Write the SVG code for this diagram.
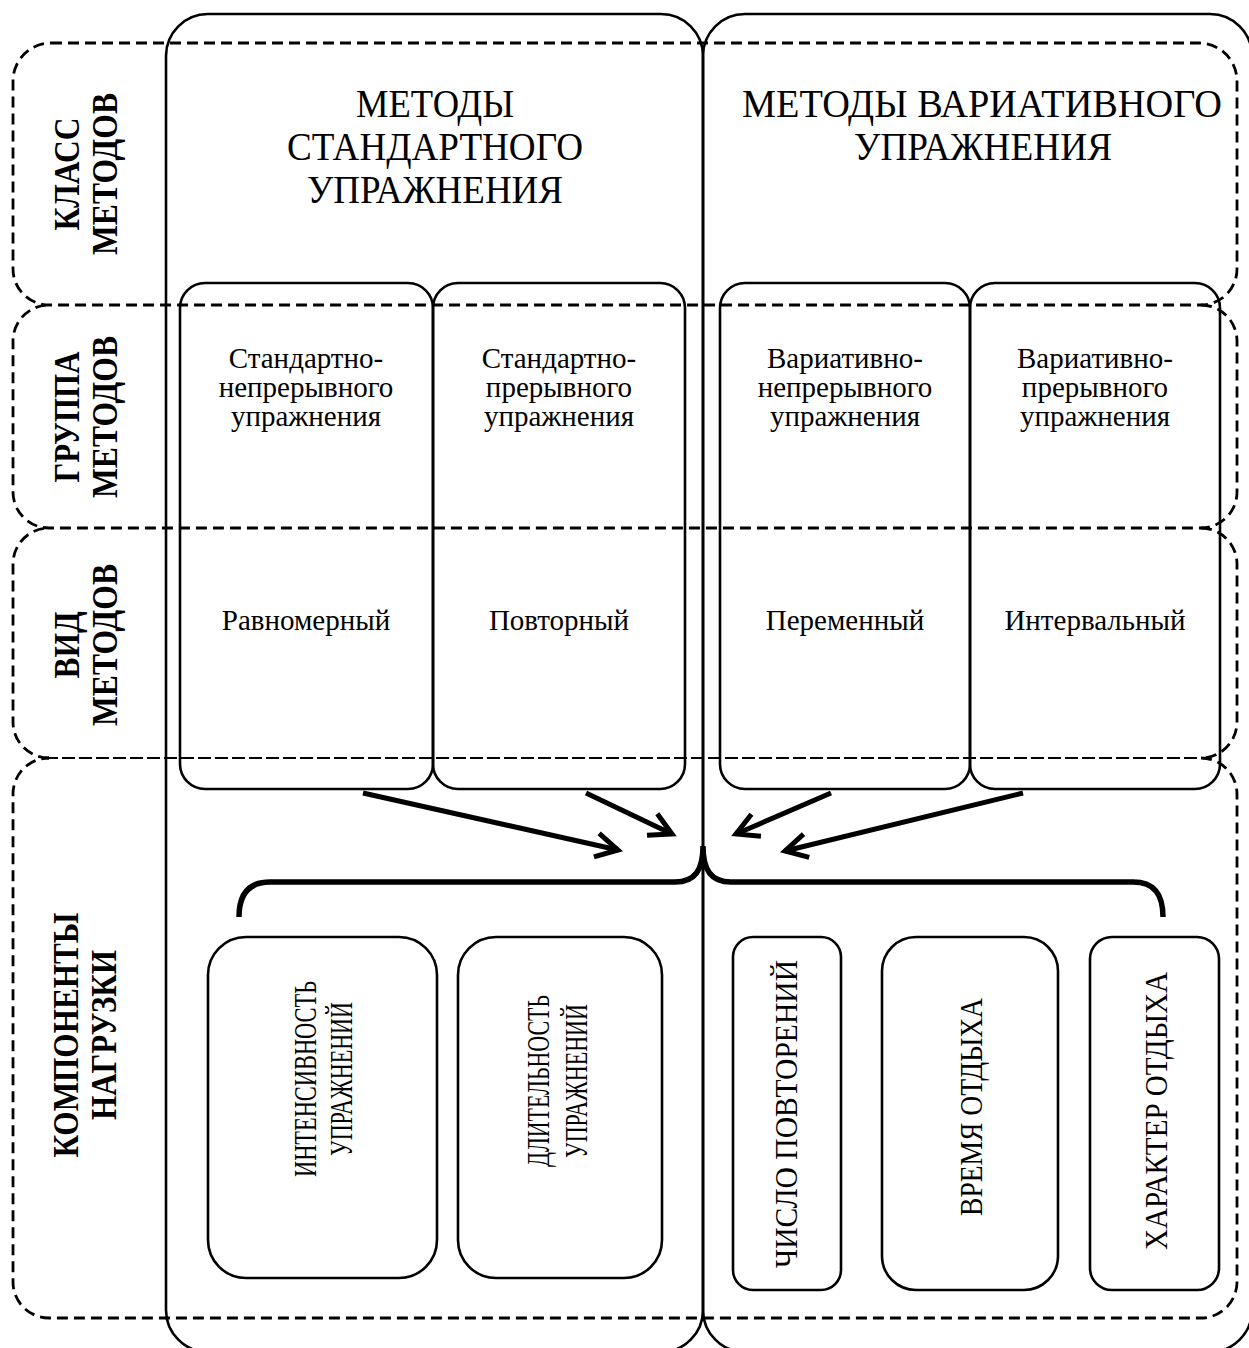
<svg xmlns="http://www.w3.org/2000/svg" width="1249" height="1348" viewBox="0 0 1249 1348">
<defs>
<style>
.dash{fill:none;stroke:#000;stroke-width:2.8;stroke-dasharray:11 6}
.thin{fill:none;stroke:#000;stroke-width:2;stroke-dasharray:13 4}
.col{fill:none;stroke:#000;stroke-width:2.6}
.box{fill:none;stroke:#000;stroke-width:2.6}
.arrow{fill:none;stroke:#000;stroke-width:5;marker-end:url(#chev)}
.brace{fill:none;stroke:#000;stroke-width:5.5;stroke-linecap:butt}
text{font-family:"Liberation Serif","Times New Roman",serif;fill:#000}
.h{font-size:40px;text-anchor:middle}
.s{font-size:29px;text-anchor:middle}
.lbl{font-size:36px;font-weight:bold;text-anchor:middle}
.v{font-size:31px;text-anchor:middle}
.vr{font-size:32px;text-anchor:middle}
</style>
<marker id="chev" markerUnits="userSpaceOnUse" markerWidth="40" markerHeight="30" viewBox="0 0 40 30" refX="32" refY="15" orient="auto" overflow="visible">
<path d="M10,3 L32,15 L10,27" fill="none" stroke="#000" stroke-width="5"/>
</marker>
</defs>

<g id="row-class">
<path class="dash" d="M51,43 L1199,43 A38,38 0 0 1 1237,81 L1237,269 A36,36 0 0 1 1201,305 L49,305 A36,36 0 0 1 13,269 L13,81 A38,38 0 0 1 51,43 Z"/>
<text class="lbl" transform="translate(0,174) rotate(-90)"><tspan x="0" y="79" textLength="113" lengthAdjust="spacingAndGlyphs">КЛАСС</tspan><tspan x="0" y="117" textLength="162" lengthAdjust="spacingAndGlyphs">МЕТОДОВ</tspan></text>
</g>
<g id="row-group">
<path class="dash" d="M1201,305 A36,36 0 0 1 1237,341 L1237,492 A36,36 0 0 1 1201,528 L49,528 A36,36 0 0 1 13,492 L13,341 A36,36 0 0 1 49,305"/>
<text class="lbl" transform="translate(0,417) rotate(-90)"><tspan x="0" y="79" textLength="131" lengthAdjust="spacingAndGlyphs">ГРУППА</tspan><tspan x="0" y="117" textLength="162" lengthAdjust="spacingAndGlyphs">МЕТОДОВ</tspan></text>
</g>
<g id="row-kind">
<path class="dash" d="M1201,528 A36,36 0 0 1 1237,564 L1237,722 A36,36 0 0 1 1201,758 M49,758 A36,36 0 0 1 13,722 L13,564 A36,36 0 0 1 49,528"/>
<text class="lbl" transform="translate(0,645) rotate(-90)"><tspan x="0" y="79" textLength="67" lengthAdjust="spacingAndGlyphs">ВИД</tspan><tspan x="0" y="117" textLength="162" lengthAdjust="spacingAndGlyphs">МЕТОДОВ</tspan></text>
</g>
<g id="row-load">
<path class="thin" d="M45,758 L1205,758"/>
<path class="dash" d="M1201,758 A36,36 0 0 1 1237,794 L1237,1282 A36,36 0 0 1 1201,1318 L49,1318 A36,36 0 0 1 13,1282 L13,794 A36,36 0 0 1 49,758"/>
<text class="lbl" transform="translate(0,1035) rotate(-90)"><tspan x="0" y="78" textLength="245" lengthAdjust="spacingAndGlyphs">КОМПОНЕНТЫ</tspan><tspan x="0" y="116" textLength="170" lengthAdjust="spacingAndGlyphs">НАГРУЗКИ</tspan></text>
</g>

<g id="col-standard">
<rect class="col" x="166" y="14" width="537" height="1338" rx="42"/>
<text class="h"><tspan x="435" y="117" textLength="158" lengthAdjust="spacingAndGlyphs">МЕТОДЫ</tspan><tspan x="435" y="160" textLength="296" lengthAdjust="spacingAndGlyphs">СТАНДАРТНОГО</tspan><tspan x="435" y="203" textLength="256" lengthAdjust="spacingAndGlyphs">УПРАЖНЕНИЯ</tspan></text>
</g>
<g id="col-variative">
<rect class="col" x="703" y="14" width="549" height="1338" rx="42"/>
<text class="h"><tspan x="982" y="117" textLength="480" lengthAdjust="spacingAndGlyphs">МЕТОДЫ ВАРИАТИВНОГО</tspan><tspan x="983" y="160" textLength="258" lengthAdjust="spacingAndGlyphs">УПРАЖНЕНИЯ</tspan></text>
</g>

<g id="box-sc">
<rect class="box" x="180" y="283" width="253" height="506" rx="25"/>
<text class="s"><tspan x="306" y="368">Стандартно-</tspan><tspan x="306" y="397">непрерывного</tspan><tspan x="306" y="426">упражнения</tspan><tspan x="306" y="630">Равномерный</tspan></text>
</g>
<g id="box-si">
<rect class="box" x="433" y="283" width="252" height="506" rx="25"/>
<text class="s"><tspan x="559" y="368">Стандартно-</tspan><tspan x="559" y="397">прерывного</tspan><tspan x="559" y="426">упражнения</tspan><tspan x="559" y="630">Повторный</tspan></text>
</g>
<g id="box-vc">
<rect class="box" x="720" y="283" width="250" height="506" rx="25"/>
<text class="s"><tspan x="845" y="368">Вариативно-</tspan><tspan x="845" y="397">непрерывного</tspan><tspan x="845" y="426">упражнения</tspan><tspan x="845" y="630">Переменный</tspan></text>
</g>
<g id="box-vi">
<rect class="box" x="970" y="283" width="250" height="506" rx="25"/>
<text class="s"><tspan x="1095" y="368">Вариативно-</tspan><tspan x="1095" y="397">прерывного</tspan><tspan x="1095" y="426">упражнения</tspan><tspan x="1095" y="630">Интервальный</tspan></text>
</g>

<g id="connectors">
<path class="arrow" d="M363,793 L618,850"/>
<path class="arrow" d="M586,793 L672,834"/>
<path class="arrow" d="M831,793 L736,834"/>
<path class="arrow" d="M1023,793 L785,851"/>
<path class="brace" d="M239,917 C239,895 248,882 270,882 L675,882 C695,882 703,870 703,846 C703,870 711,882 731,882 L1133,882 C1155,882 1163,895 1163,917"/>
</g>

<g id="comp-intensity">
<rect class="box" x="208" y="937" width="229" height="341" rx="38"/>
<text class="v" transform="translate(0,1079) rotate(-90)"><tspan x="0" y="316" textLength="196" lengthAdjust="spacingAndGlyphs">ИНТЕНСИВНОСТЬ</tspan><tspan x="0" y="352" textLength="154" lengthAdjust="spacingAndGlyphs">УПРАЖНЕНИЙ</tspan></text>
</g>
<g id="comp-duration">
<rect class="box" x="458" y="937" width="204" height="341" rx="38"/>
<text class="v" transform="translate(0,1081) rotate(-90)"><tspan x="0" y="549" textLength="172" lengthAdjust="spacingAndGlyphs">ДЛИТЕЛЬНОСТЬ</tspan><tspan x="0" y="587" textLength="154" lengthAdjust="spacingAndGlyphs">УПРАЖНЕНИЙ</tspan></text>
</g>
<g id="comp-reps">
<rect class="box" x="733" y="937" width="108" height="353" rx="20"/>
<text class="vr" transform="translate(0,1114) rotate(-90)"><tspan x="0" y="797" textLength="308" lengthAdjust="spacingAndGlyphs">ЧИСЛО ПОВТОРЕНИЙ</tspan></text>
</g>
<g id="comp-resttime">
<rect class="box" x="882" y="937" width="176" height="353" rx="34"/>
<text class="vr" transform="translate(0,1107) rotate(-90)"><tspan x="0" y="982" textLength="218" lengthAdjust="spacingAndGlyphs">ВРЕМЯ ОТДЫХА</tspan></text>
</g>
<g id="comp-restkind">
<rect class="box" x="1090" y="937" width="129" height="353" rx="22"/>
<text class="vr" transform="translate(0,1111) rotate(-90)"><tspan x="0" y="1167" textLength="278" lengthAdjust="spacingAndGlyphs">ХАРАКТЕР ОТДЫХА</tspan></text>
</g>
</svg>
